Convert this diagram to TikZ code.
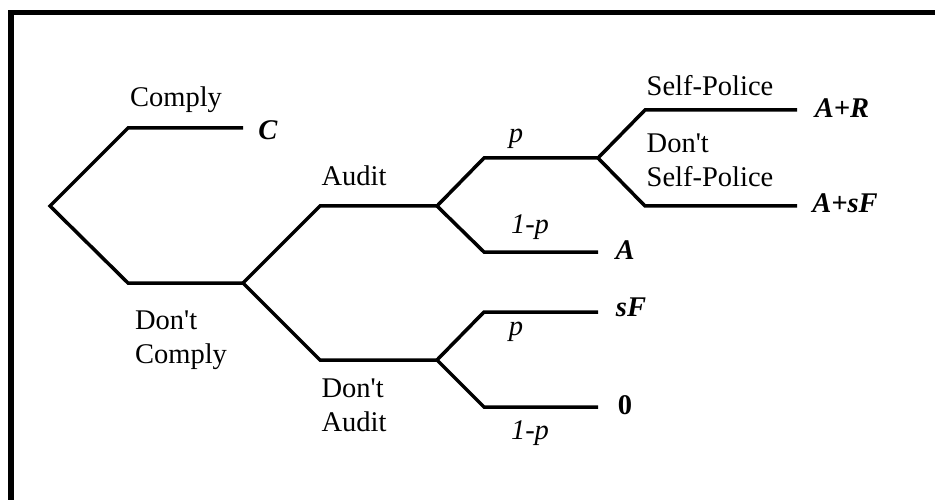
\documentclass[tikz,border=0pt]{standalone}
\usepackage{fontspec}
\setmainfont{Liberation Serif}
\begin{document}
\begin{tikzpicture}[x=1pt,y=-1pt,
  font=\fontsize{28.5}{34}\selectfont,
  br/.style={line width=3.5pt, line join=miter},
  frame/.style={line width=5.5pt},
  lbl/.style={inner sep=0pt, align=left},
  prob/.style={inner sep=0pt, font=\fontsize{28.5}{34}\selectfont\itshape},
  pay/.style={inner sep=0pt, font=\fontsize{28.5}{34}\selectfont\bfseries\itshape},
  zero/.style={inner sep=0pt, font=\fontsize{28.5}{34}\selectfont\bfseries}]
\useasboundingbox (0,0) rectangle (935,500);
\fill[white] (0,0) rectangle (935,500);
\coordinate (fb) at (11,500);
\coordinate (fc) at (11,12.5);
\coordinate (fr) at (935,12.5);
\draw[frame] (fb) -- (fc) -- (fr);

\coordinate (root) at (50,206);
\coordinate (cA) at (128,128);  \coordinate (cB) at (243,128);
\coordinate (dA) at (128,283);  \coordinate (dB) at (243,283);
\coordinate (auA) at (320,206); \coordinate (auB) at (437,206);
\coordinate (naA) at (320,360); \coordinate (naB) at (437,360);
\coordinate (apA) at (484,158); \coordinate (apB) at (598,158);
\coordinate (aqA) at (484,252); \coordinate (aqB) at (598,252);
\coordinate (spA) at (645,110); \coordinate (spB) at (797,110);
\coordinate (nsA) at (645,206); \coordinate (nsB) at (797,206);
\coordinate (npA) at (484,312); \coordinate (npB) at (598,312);
\coordinate (nqA) at (484,407); \coordinate (nqB) at (598,407);

\draw[br] (cB) -- (cA) -- (root) -- (dA) -- (dB);
\draw[br] (auB) -- (auA) -- (dB) -- (naA) -- (naB);
\draw[br] (apB) -- (apA) -- (auB) -- (aqA) -- (aqB);
\draw[br] (spB) -- (spA) -- (apB) -- (nsA) -- (nsB);
\draw[br] (npB) -- (npA) -- (naB) -- (nqA) -- (nqB);

\node[lbl] (comply) at (176,100) {Comply};
\node[lbl] (dcomply) at (181,340) {Don\textquotesingle t\\Comply};
\node[lbl] (audit) at (354,176) {Audit};
\node[lbl] (daudit) at (354,405) {Don\textquotesingle t\\Audit};
\node[lbl] (selfp) at (710,86) {Self-Police};
\node[lbl] (dselfp) at (710,160) {Don\textquotesingle t\\Self-Police};

\node[prob] (p1) at (516,139) {p};
\node[prob] (q1) at (530,227) {1-p};
\node[prob] (p2) at (516,332) {p};
\node[prob] (q2) at (530,433) {1-p};

\node[pay] (payC) at (268,130) {C};
\node[pay] (payAR) at (842,108) {A+R};
\node[pay] (payAsF) at (845,203) {A+sF};
\node[pay] (payA) at (625,250) {A};
\node[pay] (paysF) at (631,307) {sF};
\node[zero] (pay0) at (625,405) {0};
\end{tikzpicture}
\end{document}
